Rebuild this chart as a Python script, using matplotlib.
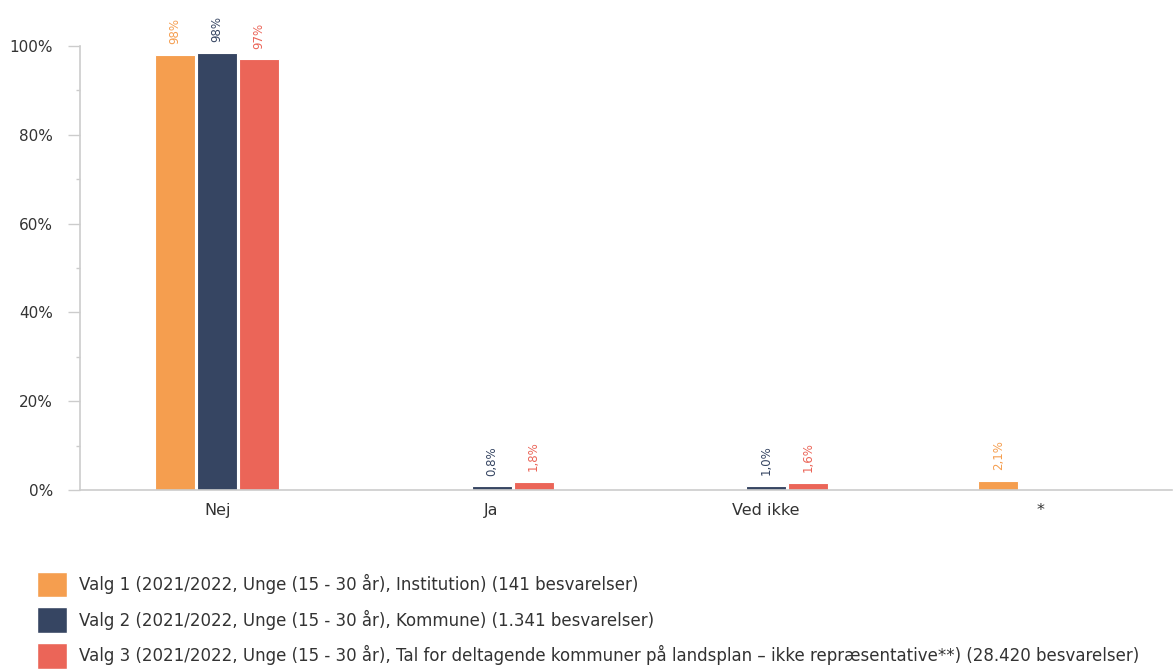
import numpy as np
import matplotlib
matplotlib.use("Agg")
import matplotlib.pyplot as plt

# data
categories = ["Nej", "Ja", "Ved ikke", "*"]
series_names = [
    "Valg 1 (2021/2022, Unge (15 - 30 år), Institution) (141 besvarelser)",
    "Valg 2 (2021/2022, Unge (15 - 30 år), Kommune) (1.341 besvarelser)",
    "Valg 3 (2021/2022, Unge (15 - 30 år), Tal for deltagende kommuner på landsplan – ikke repræsentative**) (28.420 besvarelser)",
]
valg1 = [98, None, None, 2.1]
valg2 = [98.4, 0.8, 1.0, None]
valg3 = [97, 1.8, 1.6, None]
labels1 = ["98%", "", "", "2,1%"]
labels2 = ["98%", "0,8%", "1,0%", ""]
labels3 = ["97%", "1,8%", "1,6%", ""]
colors = ["#F59E4F", "#364562", "#EB6558"]

plt.rcParams["font.family"] = ["DejaVu Sans"]

fig = plt.figure(figsize=(11.73, 6.71), dpi=100)
ax = fig.add_axes([80 / 1173, 0.2697, 1092 / 1173, 0.6617])

x = np.arange(len(categories))
w = 0.146
offs = [-0.153, 0, 0.153]
handles = []
for vals, labs, off, c in zip([valg1, valg2, valg3], [labels1, labels2, labels3], offs, colors):
    for xi, v, lab in zip(x, vals, labs):
        if v is None:
            continue
        ax.bar(xi + off, v, width=w, color=c, edgecolor="white", linewidth=0.8)
        ax.text(xi + off, v + 2.4, lab, rotation=90, ha="center", va="bottom",
                color=c, fontsize=8.5)
    handles.append(plt.Rectangle((0, 0), 1, 1, facecolor=c, edgecolor="white"))

ax.set_xlim(-0.5, 3.48)
ax.set_ylim(0, 100)
ax.set_yticks(np.arange(0, 101, 20))
ax.set_yticks(np.arange(10, 100, 20), minor=True)
ax.yaxis.set_major_formatter(matplotlib.ticker.FuncFormatter(lambda v, p: "%d%%" % v))
ax.set_xticks(x)
ax.set_xticklabels(categories)
ax.tick_params(axis="x", length=0, pad=9, labelsize=11.5, colors="#333333")
ax.tick_params(axis="y", which="both", color="#cccccc", width=1, labelsize=11, labelcolor="#333333")
ax.tick_params(axis="y", which="major", length=8.5, pad=11)
ax.tick_params(axis="y", which="minor", length=3)
for s in ["top", "right"]:
    ax.spines[s].set_visible(False)
for s in ["left", "bottom"]:
    ax.spines[s].set_color("#cccccc")
    ax.spines[s].set_linewidth(1.2)

fig.legend(handles, series_names, loc="upper left", bbox_to_anchor=(37 / 1173, 0.148),
           frameon=False, fontsize=12, handlelength=1.8, handleheight=2.0,
           labelspacing=0.6, borderaxespad=0, borderpad=0, handletextpad=0.7,
           labelcolor="#333333")

fig.savefig("out.png", dpi=100)
